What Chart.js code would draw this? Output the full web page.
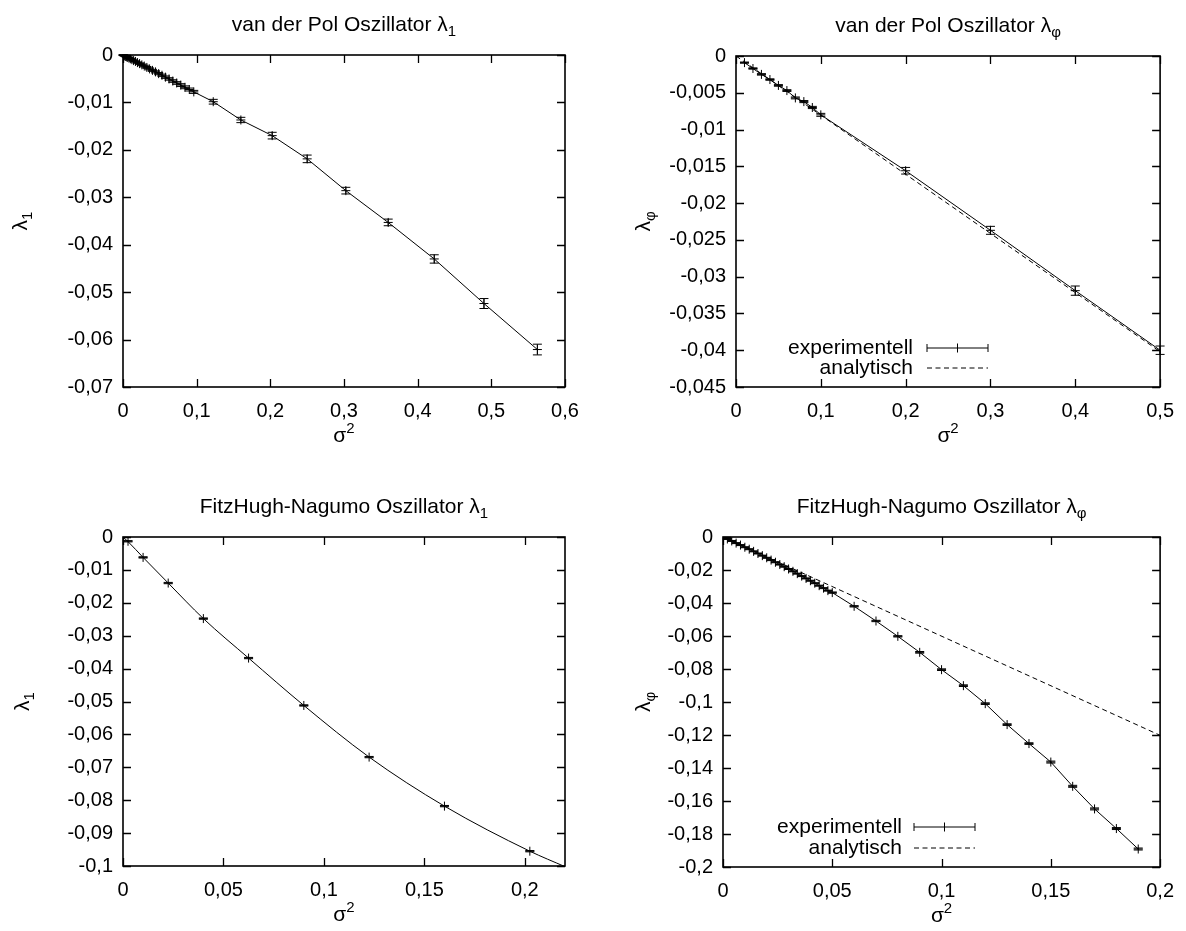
<!DOCTYPE html>
<html>
<head>
<meta charset="utf-8">
<script src="https://cdn.jsdelivr.net/npm/chart.js@4/dist/chart.umd.min.js"></script>
<style>
  html, body { margin: 0; padding: 0; background: #fff; }
  #wrap { position: relative; width: 1186px; height: 931px; }
  canvas { position: absolute; }
</style>
</head>
<body>
<div id="wrap">
  <canvas id="vdpL1" width="593" height="465" style="left:0;top:0"></canvas>
  <canvas id="vdpPhi" width="593" height="465" style="left:593px;top:0"></canvas>
  <canvas id="fhnL1" width="593" height="466" style="left:0;top:465px"></canvas>
  <canvas id="fhnPhi" width="593" height="466" style="left:593px;top:465px"></canvas>
</div>
<script>
// van der Pol, lambda_1
const vdpL1Sigma2 = [0.0001, 0.0004, 0.0009, 0.0016, 0.0025, 0.0036, 0.0049, 0.0064, 0.0081, 0.01,
  0.0121, 0.0144, 0.0169, 0.0196, 0.0225, 0.0256, 0.0289, 0.0324, 0.0361, 0.04,
  0.0441, 0.0484, 0.0529, 0.0576, 0.0625, 0.0676, 0.0729, 0.0784, 0.0841, 0.09, 0.0961,
  0.1225, 0.16, 0.2025, 0.25, 0.3025, 0.36, 0.4225, 0.49, 0.5625];
const vdpL1 = [-0.00001, -0.00003, -0.00008, -0.00013, -0.0002, -0.0003, -0.0004, -0.00052, -0.00066, -0.0008,
  -0.00098, -0.00118, -0.00136, -0.0016, -0.00182, -0.00208, -0.00233, -0.00262, -0.00293, -0.00324,
  -0.00356, -0.00393, -0.00427, -0.00467, -0.00505, -0.00549, -0.0059, -0.00634, -0.00681, -0.00728, -0.00778,
  -0.00985, -0.0137, -0.0170, -0.0219, -0.0286, -0.0353, -0.0430, -0.0524, -0.0621];
const vdpL1Err = [0.00005, 0.00005, 0.00006, 0.00006, 0.00007, 0.00008, 0.00009, 0.0001, 0.0001, 0.00011,
  0.00012, 0.00013, 0.00014, 0.00015, 0.00016, 0.00017, 0.00018, 0.00019, 0.0002, 0.00021,
  0.00022, 0.00023, 0.00024, 0.00025, 0.00026, 0.00027, 0.00028, 0.00029, 0.0003, 0.00031, 0.00032,
  0.0005, 0.00056, 0.0007, 0.0008, 0.0007, 0.0007, 0.00088, 0.00105, 0.00113];

// van der Pol, lambda_phi
const vdpPhiSigma2 = [0.01, 0.02, 0.03, 0.04, 0.05, 0.06, 0.07, 0.08, 0.09, 0.1, 0.2, 0.3, 0.4, 0.5];
const vdpPhi = [-0.0009, -0.0017, -0.0025, -0.0032, -0.0040, -0.0047, -0.0057, -0.0062, -0.0070, -0.0080,
  -0.0156, -0.0237, -0.0319, -0.0400];
const vdpPhiErr = [0.00008, 0.00009, 0.0001, 0.0001, 0.00011, 0.00012, 0.00013, 0.00014, 0.00015, 0.0002,
  0.00045, 0.00054, 0.00063, 0.00057];
const vdpPhiAnalyticX = [0, 0.5];
const vdpPhiAnalyticY = [0, -0.0402];

// FitzHugh-Nagumo, lambda_1
const fhnL1Sigma2 = [0.0025, 0.01, 0.0225, 0.04, 0.0625, 0.09, 0.1225, 0.16, 0.2025];
const fhnL1 = [-0.0013, -0.0062, -0.0140, -0.0248, -0.0368, -0.0512, -0.0669, -0.0818, -0.0955];
const fhnL1Err = [0.0002, 0.0002, 0.0002, 0.0002, 0.0002, 0.0002, 0.0002, 0.0002, 0.0002];
const fhnL1CurveX = [0, 0.0025, 0.01, 0.0225, 0.04, 0.0625, 0.09, 0.1225, 0.16, 0.2025, 0.22];
const fhnL1CurveY = [0, -0.0014, -0.0062, -0.0140, -0.0248, -0.0368, -0.0512, -0.0669, -0.0818, -0.0955, -0.1002];

// FitzHugh-Nagumo, lambda_phi
const fhnPhiSigma2 = [0.002, 0.004, 0.006, 0.008, 0.01, 0.012, 0.014, 0.016, 0.018, 0.02,
  0.022, 0.024, 0.026, 0.028, 0.03, 0.032, 0.034, 0.036, 0.038, 0.04,
  0.042, 0.044, 0.046, 0.048, 0.05,
  0.06, 0.07, 0.08, 0.09, 0.1, 0.11, 0.12, 0.13, 0.14, 0.15, 0.16, 0.17, 0.18, 0.19];
const fhnPhi = [-0.0012, -0.0024, -0.0037, -0.0049, -0.0062, -0.0074, -0.0087, -0.0100, -0.0113, -0.0126,
  -0.0140, -0.0153, -0.0167, -0.0180, -0.0194, -0.0208, -0.0222, -0.0237, -0.0251, -0.0265,
  -0.0280, -0.0295, -0.0310, -0.0325, -0.0337,
  -0.0420, -0.0509, -0.0602, -0.0699, -0.0804, -0.0901, -0.1010, -0.1137, -0.1252, -0.1364,
  -0.1511, -0.1648, -0.1767, -0.1891];
const fhnPhiErr = [0.0003, 0.0003, 0.0003, 0.0003, 0.0003, 0.0003, 0.0003, 0.0003, 0.0003, 0.0003,
  0.0003, 0.0003, 0.0003, 0.0003, 0.0003, 0.0003, 0.0003, 0.0003, 0.0003, 0.0003,
  0.0003, 0.0003, 0.0003, 0.0003, 0.0004,
  0.0004, 0.0004, 0.0004, 0.0005, 0.0005, 0.0005, 0.0005, 0.0005, 0.0005, 0.0006,
  0.0006, 0.0006, 0.0006, 0.0006];
const fhnPhiAnalyticX = [0, 0.2];
const fhnPhiAnalyticY = [0, -0.1202];

const FONT = '"Liberation Sans", Arial, sans-serif';
const FS = 20;   // tick labels
const TFS = 21;  // titles, axis labels, legend

const pts = (xs, ys) => xs.map((x, i) => ({ x: x, y: ys[i] }));
const fmt = v => String(Math.round(v * 1e6) / 1e6).replace('.', ',');

// text with sub/superscripts: parts = [[text, ''|'sub'|'sup'], ...]
function richWidth(ctx, parts) {
    let w = 0;
    parts.forEach(p => {
        ctx.font = (p[1] ? 15 : TFS) + 'px ' + FONT;
        w += ctx.measureText(p[0]).width;
    });
    return w;
}
function drawRich(ctx, parts, x, y) {
    let cx = x - richWidth(ctx, parts) / 2;
    ctx.textAlign = 'left';
    ctx.textBaseline = 'alphabetic';
    parts.forEach(p => {
        ctx.font = (p[1] ? 15 : TFS) + 'px ' + FONT;
        const dy = p[1] === 'sub' ? 5 : (p[1] === 'sup' ? -9 : 0);
        ctx.fillText(p[0], cx, y + dy);
        cx += ctx.measureText(p[0]).width;
    });
}

const gnuplotLook = {
    id: 'gnuplotLook',
    afterDatasetsDraw(chart) {
        const ctx = chart.ctx;
        const xs = chart.scales.x, ys = chart.scales.y;
        ctx.save();
        ctx.strokeStyle = '#000';
        ctx.lineWidth = 1;
        chart.data.datasets.forEach(ds => {
            if (!ds.err) return;
            ds.data.forEach((p, i) => {
                const px = xs.getPixelForValue(p.x);
                const y1 = ys.getPixelForValue(p.y - ds.err[i]);
                const y2 = ys.getPixelForValue(p.y + ds.err[i]);
                ctx.beginPath();
                ctx.moveTo(px, y1); ctx.lineTo(px, y2);
                ctx.moveTo(px - 4.5, y1); ctx.lineTo(px + 4.5, y1);
                ctx.moveTo(px - 4.5, y2); ctx.lineTo(px + 4.5, y2);
                ctx.stroke();
            });
        });
        ctx.restore();
    },
    afterDraw(chart, args, opts) {
        const ctx = chart.ctx;
        const a = chart.chartArea;
        const xs = chart.scales.x, ys = chart.scales.y;
        ctx.save();
        ctx.strokeStyle = '#000';
        ctx.fillStyle = '#000';
        // inward ticks, mirrored
        ctx.lineWidth = 1.3;
        ctx.beginPath();
        xs.ticks.forEach(t => {
            const px = Math.round(xs.getPixelForValue(t.value)) + 0.5;
            ctx.moveTo(px, a.bottom); ctx.lineTo(px, a.bottom - 8);
            ctx.moveTo(px, a.top); ctx.lineTo(px, a.top + 8);
        });
        ys.ticks.forEach(t => {
            const py = Math.round(ys.getPixelForValue(t.value)) + 0.5;
            ctx.moveTo(a.left, py); ctx.lineTo(a.left + 8, py);
            ctx.moveTo(a.right, py); ctx.lineTo(a.right - 8, py);
        });
        ctx.stroke();
        // border
        ctx.lineWidth = 1.6;
        ctx.strokeRect(a.left, a.top, a.right - a.left, a.bottom - a.top);
        // title
        const mid = (a.left + a.right) / 2;
        drawRich(ctx, opts.title, mid, a.top - 24);
        // x label
        drawRich(ctx, [['σ', ''], ['2', 'sup']], mid, a.bottom + 55);
        // y label, rotated
        ctx.save();
        ctx.translate(opts.yLabelX, (a.top + a.bottom) / 2);
        ctx.rotate(-Math.PI / 2);
        drawRich(ctx, opts.yLabel, 0, 7);
        ctx.restore();
        // legend
        if (opts.legend) {
            const L = opts.legend;
            ctx.font = TFS + 'px ' + FONT;
            ctx.textAlign = 'right';
            ctx.textBaseline = 'middle';
            ctx.fillText('experimentell', L.textRight, L.y1);
            ctx.fillText('analytisch', L.textRight, L.y2);
            ctx.lineWidth = 1;
            ctx.beginPath();
            ctx.moveTo(L.x0, L.y1); ctx.lineTo(L.x1, L.y1);
            ctx.moveTo(L.x0, L.y1 - 4); ctx.lineTo(L.x0, L.y1 + 4);
            ctx.moveTo(L.x1, L.y1 - 4); ctx.lineTo(L.x1, L.y1 + 4);
            const xm = (L.x0 + L.x1) / 2;
            ctx.moveTo(xm, L.y1 - 4.5); ctx.lineTo(xm, L.y1 + 4.5);
            ctx.stroke();
            ctx.setLineDash([5, 3.5]);
            ctx.beginPath();
            ctx.moveTo(L.x0, L.y2); ctx.lineTo(L.x1, L.y2);
            ctx.stroke();
        }
        ctx.restore();
    }
};

function makePanel(id, area, xr, yr, datasets, look) {
    const canvas = document.getElementById(id);
    const W = canvas.width, H = canvas.height;
    const xH = 40;
    new Chart(canvas.getContext('2d'), {
        type: 'scatter',
        data: { datasets: datasets },
        options: {
            responsive: false,
            animation: false,
            devicePixelRatio: 1,
            layout: { padding: { left: 0, top: area.t, right: W - area.r, bottom: H - area.b - xH } },
            plugins: {
                legend: { display: false },
                tooltip: { enabled: false },
                gnuplotLook: look
            },
            scales: {
                x: {
                    type: 'linear', min: xr[0], max: xr[1],
                    grid: { display: false, drawTicks: false },
                    border: { display: false },
                    ticks: { stepSize: xr[2], includeBounds: false, padding: 12, color: '#000',
                        font: { family: FONT, size: FS }, callback: fmt, maxRotation: 0 },
                    afterFit: s => { s.height = xH; }
                },
                y: {
                    type: 'linear', min: yr[0], max: yr[1],
                    grid: { display: false, drawTicks: false },
                    border: { display: false },
                    ticks: { stepSize: yr[2], includeBounds: false, padding: 10, color: '#000',
                        font: { family: FONT, size: FS }, callback: fmt },
                    afterFit: s => { s.width = area.l; }
                }
            }
        },
        plugins: [gnuplotLook]
    });
}

const expStyle = {
    borderColor: '#000', backgroundColor: '#000', borderWidth: 1,
    pointStyle: 'cross', pointRadius: 4.5, pointBorderWidth: 1, pointHoverRadius: 4.5, tension: 0
};
const dashStyle = {
    borderColor: '#000', borderWidth: 1, borderDash: [5, 3.5], pointRadius: 0, showLine: true
};

makePanel('vdpL1', { l: 123, t: 55, r: 565, b: 387 }, [0, 0.6, 0.1], [-0.07, 0, 0.01], [
    Object.assign({ data: pts(vdpL1Sigma2, vdpL1), err: vdpL1Err, showLine: true }, expStyle)
], {
    title: [['van der Pol Oszillator λ', ''], ['1', 'sub']],
    yLabel: [['λ', ''], ['1', 'sub']], yLabelX: 20
});

makePanel('vdpPhi', { l: 143, t: 56, r: 572, b: 387 }, [0, 0.5, 0.1], [-0.045, 0, 0.005], [
    Object.assign({ data: pts(vdpPhiSigma2, vdpPhi), err: vdpPhiErr, showLine: true }, expStyle),
    Object.assign({ data: pts(vdpPhiAnalyticX, vdpPhiAnalyticY) }, dashStyle)
], {
    title: [['van der Pol Oszillator λ', ''], ['φ', 'sub']],
    yLabel: [['λ', ''], ['φ', 'sub']], yLabelX: 50,
    legend: { textRight: 320, y1: 348, y2: 368, x0: 334, x1: 395 }
});

makePanel('fhnL1', { l: 123, t: 72, r: 565, b: 401 }, [0, 0.22, 0.05], [-0.1, 0, 0.01], [
    Object.assign({ data: pts(fhnL1Sigma2, fhnL1), err: fhnL1Err, showLine: false }, expStyle),
    { data: pts(fhnL1CurveX, fhnL1CurveY), showLine: true, borderColor: '#000', borderWidth: 1,
      pointRadius: 0, cubicInterpolationMode: 'monotone' }
], {
    title: [['FitzHugh-Nagumo Oszillator λ', ''], ['1', 'sub']],
    yLabel: [['λ', ''], ['1', 'sub']], yLabelX: 22
});

makePanel('fhnPhi', { l: 130, t: 72, r: 572, b: 402 }, [0, 0.2, 0.05], [-0.2, 0, 0.02], [
    Object.assign({ data: pts(fhnPhiSigma2, fhnPhi), err: fhnPhiErr, showLine: true }, expStyle),
    Object.assign({ data: pts(fhnPhiAnalyticX, fhnPhiAnalyticY) }, dashStyle)
], {
    title: [['FitzHugh-Nagumo Oszillator λ', ''], ['φ', 'sub']],
    yLabel: [['λ', ''], ['φ', 'sub']], yLabelX: 50,
    legend: { textRight: 309, y1: 362, y2: 383, x0: 321, x1: 382 }
});
</script>
</body>
</html>
